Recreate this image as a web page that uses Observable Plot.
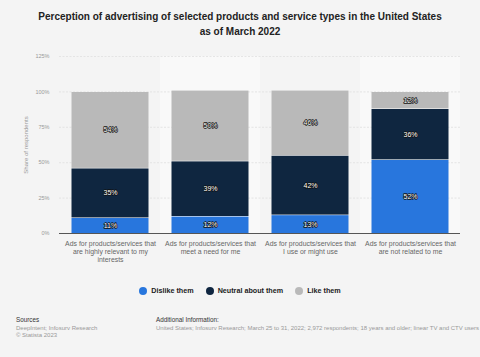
<!DOCTYPE html>
<html><head><meta charset="utf-8">
<script src="https://cdn.jsdelivr.net/npm/d3@7"></script>
<script src="https://cdn.jsdelivr.net/npm/@observablehq/plot@0.6"></script>
<style>
html,body{margin:0;padding:0;background:#f4f4f4;}
#wrap{position:relative;width:480px;height:357px;background:#f4f4f4;font-family:"Liberation Sans",Arial,sans-serif;overflow:hidden;}
#title{position:absolute;top:9px;left:0;width:480px;text-align:center;font-weight:bold;font-size:10px;line-height:15px;color:#222;}
#chart{position:absolute;top:0;left:0;}
#legend{position:absolute;top:286px;left:0;width:480px;display:flex;justify-content:center;gap:12px;font-size:7.2px;font-weight:bold;color:#222;}
#legend span.item{display:flex;align-items:center;}
#legend span.dot{display:inline-block;width:8px;height:8px;border-radius:50%;margin-right:4px;}
.foot{position:absolute;font-size:6px;line-height:7.6px;color:#999;white-space:nowrap;}
.foot b{font-weight:normal;color:#333;font-size:6.3px;}
</style>
</head><body>
<div id="wrap">
<div id="chart"></div>
<div id="title">Perception of advertising of selected products and service types in the United States<br>as of March 2022</div>
<div id="legend"></div>
<div class="foot" style="left:16px;top:316px;"><b>Sources</b><br>DeepIntent; Infosurv Research<br>© Statista 2023</div>
<div class="foot" style="left:156px;top:316px;"><b>Additional Information:</b><br>United States; Infosurv Research; March 25 to 31, 2022; 2,972 respondents; 18 years and older; linear TV and CTV users</div>
</div>
<script>
const categories = [
  "Ads for products/services that are highly relevant to my interests",
  "Ads for products/services that meet a need for me",
  "Ads for products/services that I use or might use",
  "Ads for products/services that are not related to me"
];
const tickLabels = [
  "Ads for products/services that\nare highly relevant to my\ninterests",
  "Ads for products/services that\nmeet a need for me",
  "Ads for products/services that\nI use or might use",
  "Ads for products/services that\nare not related to me"
];
const seriesNames = ["Dislike them", "Neutral about them", "Like them"];
const seriesColors = ["#2876dd", "#0f2640", "#b9b9b9"];
const dislike = [11, 12, 13, 52];
const neutral = [35, 39, 42, 36];
const like = [54, 50, 46, 12];
const yTicks = [0, 25, 50, 75, 100, 125];

const seriesValues = [dislike, neutral, like];
const data = [];
seriesNames.forEach((s, si) => categories.forEach((c, ci) => data.push({cat: c, series: s, value: seriesValues[si][ci]})));
const shaded = [categories[1], categories[3]];

const chart = Plot.plot({
  width: 480, height: 357,
  marginTop: 56, marginBottom: 124, marginLeft: 59, marginRight: 20,
  style: {background: "transparent", fontFamily: "'Liberation Sans', Arial, sans-serif"},
  x: {domain: categories, padding: 0, label: null},
  y: {domain: [0, 125], label: null},
  color: {domain: seriesNames, range: seriesColors},
  marks: [
    Plot.barY(shaded, {x: d => d, y1: 0, y2: 125, fill: "#f9f9f9"}),
    Plot.gridY(yTicks, {stroke: "#dcdcdc", strokeOpacity: 1, strokeDasharray: "2,1.5", strokeWidth: 0.7}),
    Plot.axisY(yTicks, {tickSize: 0, tickPadding: 10, tickFormat: d => d + "%", fontSize: 5.5, color: "#999",
      label: "Share of respondents", labelAnchor: "center", labelOffset: 36, labelArrow: "none"}),
    Plot.axisX({tickSize: 0, tickPadding: 7, tickFormat: (d) => tickLabels[categories.indexOf(d)], fontSize: 6.9, color: "#666", lineHeight: 1.15, textAnchor: "middle"}),
    Plot.barY(data, {x: "cat", y: "value", fill: "series", insetLeft: 11.5, insetRight: 11.5, insetTop: 0.6}),
    Plot.text(data, Plot.stackY({x: "cat", y: "value", z: "series", text: d => d.value + "%", fill: "white", stroke: "#111", strokeWidth: 1.4, paintOrder: "stroke", fontSize: 7})),
    Plot.ruleY([0], {stroke: "#555", strokeWidth: 1})
  ]
});
chart.querySelectorAll("g[aria-label='y-axis label'] text").forEach(t => { t.setAttribute("fill", "#999"); t.style.fontSize = "6px"; });
document.getElementById("chart").appendChild(chart);

const legend = document.getElementById("legend");
seriesNames.forEach((s, i) => {
  const item = document.createElement("span");
  item.className = "item";
  const dot = document.createElement("span");
  dot.className = "dot";
  dot.style.background = seriesColors[i];
  item.appendChild(dot);
  item.appendChild(document.createTextNode(s));
  legend.appendChild(item);
});
</script>
</body></html>
